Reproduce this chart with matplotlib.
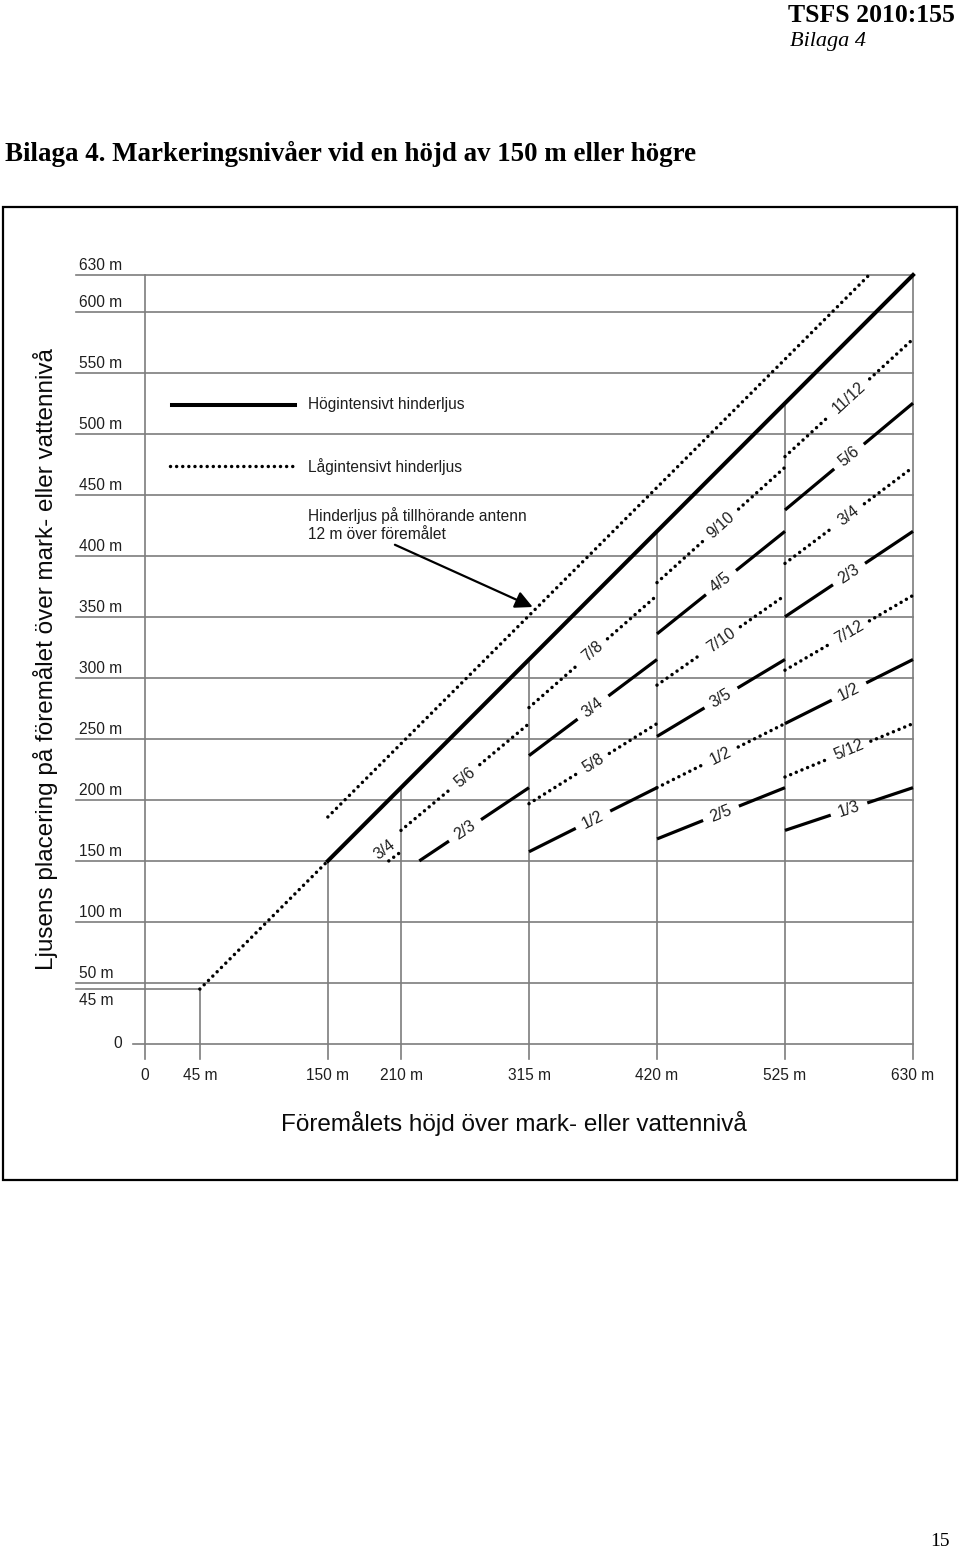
import math
from matplotlib import pyplot as plt
from matplotlib.patches import Rectangle

# --- data (metres) ---
y_tick_values = [630, 600, 550, 500, 450, 400, 350, 300, 250, 200, 150, 100, 50]
y_tick_labels = ["630 m", "600 m", "550 m", "500 m", "450 m", "400 m", "350 m",
                 "300 m", "250 m", "200 m", "150 m", "100 m", "50 m"]
x_tick_values = [0, 45, 150, 210, 315, 420, 525, 630]
x_tick_labels = ["0", "45 m", "150 m", "210 m", "315 m", "420 m", "525 m", "630 m"]

low_base_x = [45, 150]          # lågintensivt upp till 150 m
high_x = [150, 630]             # högintensivt, toppen av föremålet
antenna_x = [150, 594]
antenna_y = [186, 630]

min_level = 150
bay_start = [150, 210, 315, 420, 525]
bay_end = [210, 315, 420, 525, 630]
bay_levels = [
    ["3/4"],
    ["5/6", "2/3"],
    ["7/8", "3/4", "5/8", "1/2"],
    ["9/10", "4/5", "7/10", "3/5", "1/2", "2/5"],
    ["11/12", "5/6", "3/4", "2/3", "7/12", "1/2", "5/12", "1/3"],
]

GRID = "#7d7d7d"
TXT = "#1e1e1e"
SANS = "Liberation Sans"
SERIF = "Liberation Serif"
DOT = dict(linestyle=(0, (0.01, 1.75)), dash_capstyle="round", lw=2.5, color="black")
SOLID = dict(linestyle="-", lw=2.3, color="black", solid_capstyle="butt")

W, H = 960, 1549
fig = plt.figure(figsize=(W / 100, H / 100), dpi=100)


def fx(px):
    return px / W


def fy(py):
    return 1 - py / H


# page header / title
fig.text(fx(955), fy(22), "TSFS 2010:155", ha="right", va="baseline",
         family=SERIF, weight="bold", fontsize=18.5)
fig.text(fx(790), fy(46), "Bilaga 4", ha="left", va="baseline",
         family=SERIF, style="italic", fontsize=16)
fig.text(fx(5), fy(161), "Bilaga 4. Markeringsnivåer vid en höjd av 150 m eller högre",
         ha="left", va="baseline", family=SERIF, weight="bold", fontsize=19.4)
fig.text(fx(950), fy(1546), "15", ha="right", va="baseline", family=SERIF, fontsize=14)
fig.patches.append(Rectangle((fx(3), fy(1180)), fx(954), (1180 - 207) / H,
                             transform=fig.transFigure, fill=False, lw=1.6,
                             edgecolor="black"))

ax = fig.add_axes([fx(145), fy(1044), 768 / W, 769 / H])
ax.set_xlim(0, 630)
ax.set_ylim(0, 630)
ax.axis("off")

# grid
for v in y_tick_values:
    ax.plot([-57, 630], [v, v], color=GRID, lw=1.2, clip_on=False, zorder=1)
ax.plot([-57, 45], [45, 45], color=GRID, lw=1.2, clip_on=False, zorder=1)
ax.plot([-10, 630], [0, 0], color=GRID, lw=1.2, clip_on=False, zorder=1)
for v in x_tick_values:
    top = 630 if v == 0 else v
    ax.plot([v, v], [-12, top], color=GRID, lw=1.2, clip_on=False, zorder=1)

# tick labels
for v, lab in zip(y_tick_values, y_tick_labels):
    ax.text(-54, v + 7.5, lab, ha="left", va="center", family=SANS,
            fontsize=11.2, color=TXT)
ax.text(-54, 36, "45 m", ha="left", va="center", family=SANS, fontsize=11.2, color=TXT)
ax.text(-19, 0, "0", ha="right", va="center", family=SANS, fontsize=11.2, color=TXT)
for v, lab in zip(x_tick_values, x_tick_labels):
    ax.text(v, -25.5, lab, ha="center", va="center", family=SANS,
            fontsize=11.2, color=TXT)

ax.text(303, -65, "Föremålets höjd över mark- eller vattennivå", ha="center",
        va="center", family=SANS, fontsize=17.5, color="#0a0a0a")
ax.text(-82, 315, "Ljusens placering på föremålet över mark- eller vattennivå",
        ha="center", va="center", rotation=90, family=SANS, fontsize=17.5,
        color="#0a0a0a")

# main lines
ax.plot(low_base_x, low_base_x, clip_on=False, zorder=3, **DOT)
ax.plot(high_x, high_x, color="black", lw=2.9, clip_on=False, zorder=3)
ax.plot(antenna_x, antenna_y, clip_on=False, zorder=3, **DOT)

# marking levels per bay
for x0, x1, levels in zip(bay_start, bay_end, bay_levels):
    for i, lab in enumerate(levels):
        num, den = lab.split("/")
        f = int(num) / int(den)
        style = DOT if i % 2 == 0 else SOLID
        xs = max(x0, min_level / f)
        xm = (x0 + x1) / 2
        ang = math.degrees(math.atan(f))
        if f * xm < min_level:
            ax.plot([xs, x1], [f * xs, f * x1], clip_on=False, zorder=3, **style)
            ax.text(xs - 3, min_level + 9, lab, rotation=ang, rotation_mode="anchor",
                    ha="center", va="center", family=SANS, fontsize=11.5, color=TXT)
            continue
        gap = (7.2 * len(lab) + 10) / math.sqrt(1 + f * f)
        ga, gb = xm - gap / 2, xm + gap / 2
        ax.plot([xs, ga], [f * xs, f * ga], clip_on=False, zorder=3, **style)
        ax.plot([gb, x1], [f * gb, f * x1], clip_on=False, zorder=3, **style)
        ax.text(xm, f * xm, lab, rotation=ang, rotation_mode="anchor",
                ha="center", va="center", family=SANS, fontsize=11.5, color=TXT)

# legend inside chart
ax.plot([22, 123], [523.5, 523.5], color="black", lw=2.9, zorder=3)
ax.text(134, 523.5, "Högintensivt hinderljus", ha="left", va="center",
        family=SANS, fontsize=11.2, color=TXT)
ax.plot([20.5, 123], [473.5, 473.5], zorder=3, **DOT)
ax.text(134, 473.5, "Lågintensivt hinderljus", ha="left", va="center",
        family=SANS, fontsize=11.2, color=TXT)
ax.text(134, 425.5, "Hinderljus på tillhörande antenn\n12 m över föremålet",
        ha="left", va="center", family=SANS, fontsize=11.2, color=TXT,
        linespacing=1.2)
ax.annotate("", xy=(318, 358), xytext=(205, 409),
            arrowprops=dict(arrowstyle="-|>", mutation_scale=26, lw=1.6,
                            color="black", shrinkA=0, shrinkB=0))

fig.savefig("out.png", dpi=100)
plt.close(fig)
